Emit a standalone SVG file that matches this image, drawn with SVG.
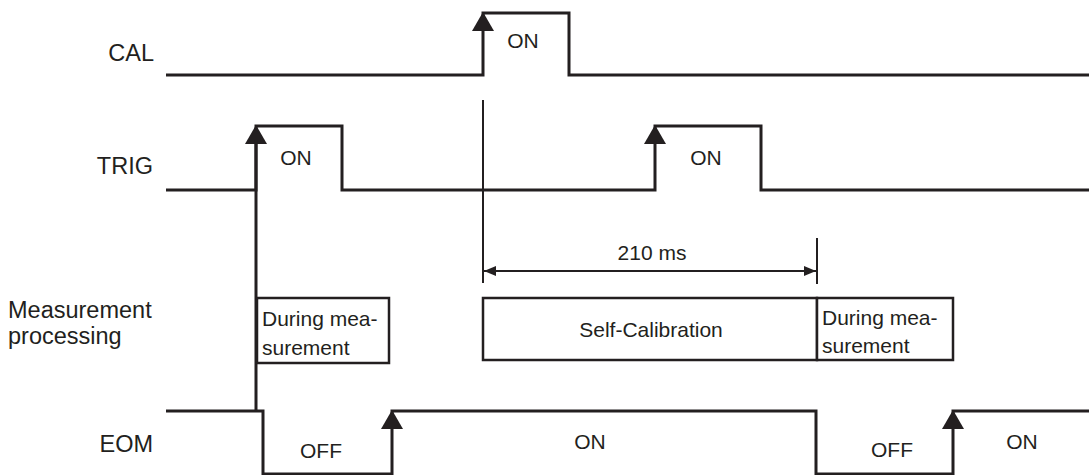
<svg xmlns="http://www.w3.org/2000/svg" width="1089" height="475" viewBox="0 0 1089 475">
<style>
.sig{fill:none;stroke:#231f20;stroke-width:3;stroke-linejoin:miter;stroke-linecap:butt}
.thin{fill:none;stroke:#231f20;stroke-width:2}
.box{fill:#fff;stroke:#231f20;stroke-width:2.5}
.lbl{font-family:"Liberation Sans",Arial,sans-serif;font-size:23.5px;fill:#231f20}
.t{font-family:"Liberation Sans",Arial,sans-serif;font-size:21px;fill:#231f20}
.c{text-anchor:middle}
</style>
<defs>
<path id="up" d="M0,0 L11,19 L-11,19 Z" fill="#231f20"/>
<marker id="ah" viewBox="0 0 12 10" refX="12" refY="5" markerWidth="12" markerHeight="10" markerUnits="userSpaceOnUse" orient="auto-start-reverse">
<path d="M0,0 L12,5 L0,10 Z" fill="#231f20"/>
</marker>
</defs>
<rect width="1089" height="475" fill="#fff"/>
<g id="labels">
<text class="lbl" x="154" y="61" text-anchor="end">CAL</text>
<text class="lbl" x="153" y="174" text-anchor="end">TRIG</text>
<text class="lbl" x="8" y="318">Measurement</text>
<text class="lbl" x="8" y="344">processing</text>
<text class="lbl" x="153" y="452" text-anchor="end">EOM</text>
</g>
<g id="cal">
<polyline class="sig" points="166,75 483,75 483,13 569,13 569,75 1089,75"/>
<use href="#up" x="483" y="12"/>
<text class="t c" x="523" y="48">ON</text>
</g>
<g id="trig">
<polyline class="sig" points="166,190 256,190 256,126 342,126 342,190 655,190 655,126 761,126 761,190 1089,190"/>
<use href="#up" x="256" y="125"/>
<use href="#up" x="655" y="125"/>
<text class="t c" x="296" y="165">ON</text>
<text class="t c" x="706" y="165">ON</text>
</g>
<g id="eom">
<polyline class="sig" points="166,411 263,411 263,474 392,474 392,411 816,411 816,474 953,474 953,411 1089,411"/>
<use href="#up" x="392" y="410"/>
<use href="#up" x="953" y="410"/>
<text class="t c" x="321" y="458">OFF</text>
<text class="t c" x="590" y="449">ON</text>
<text class="t c" x="892" y="457">OFF</text>
<text class="t c" x="1022" y="449">ON</text>
</g>
<g id="connectors">
<line class="sig" x1="256" y1="140" x2="256" y2="411" stroke-width="2.5"/>
<line class="thin" x1="483" y1="100" x2="483" y2="283"/>
<line class="thin" x1="817" y1="238" x2="817" y2="284"/>
<line class="thin" x1="484" y1="271" x2="816" y2="271" marker-start="url(#ah)" marker-end="url(#ah)"/>
<text class="t c" x="652" y="260">210 ms</text>
</g>
<g id="box-meas1">
<rect class="box" x="257" y="298" width="132" height="65"/>
<text class="t" x="262" y="326">During mea-</text>
<text class="t" x="262" y="355">surement</text>
</g>
<g id="box-selfcal">
<rect class="box" x="483" y="298" width="334" height="62"/>
<text class="t c" x="651" y="337">Self-Calibration</text>
</g>
<g id="box-meas2">
<rect class="box" x="817" y="298" width="136" height="62"/>
<text class="t" x="822" y="325">During mea-</text>
<text class="t" x="822" y="353">surement</text>
</g>
</svg>
